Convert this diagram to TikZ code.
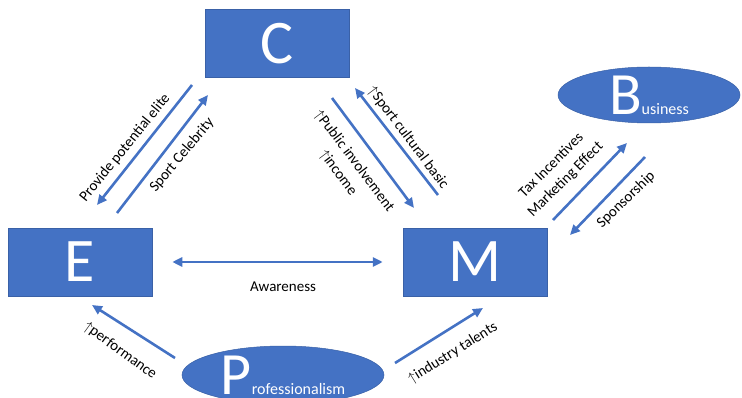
\documentclass[tikz,border=0pt]{standalone}
\usepackage{fontspec}
\setmainfont{Carlito}
\usetikzlibrary{arrows.meta,shapes.geometric}
\definecolor{boxblue}{HTML}{4472C4}
\newcommand{\upmark}{\ensuremath{\uparrow}}
\tikzset{
	bigbox/.style={rectangle, fill=boxblue, draw=boxblue!85!black, line width=0.5pt,
		minimum width=144pt, minimum height=68pt, inner sep=0pt,
		text=white, font=\fontsize{62}{62}\selectfont},
	bigoval/.style={ellipse, fill=boxblue, draw=boxblue!85!black, line width=0.5pt,
		minimum width=202pt, minimum height=58pt, inner sep=0pt,
		text=white, font=\fontsize{60}{60}\selectfont},
	link/.style={draw=boxblue, line width=2.6pt, -{Triangle[length=10pt,width=9pt]}},
	lbl/.style={font=\fontsize{15}{20}\selectfont, inner sep=0pt, align=center}
}
\begin{document}
\begin{tikzpicture}[x=1pt,y=-1pt]
	\useasboundingbox (0,0) rectangle (742,398);
	% the four blocks
	\node[bigbox] (C) at (277,43.5) {C};
	\node[bigbox] (E) at (80,262) {E};
	\node[bigbox] (M) at (475,262) {M};
	\node[bigoval, minimum width=182pt, minimum height=56pt] (B) at (649,95)
		{B{\fontsize{16}{16}\selectfont usiness}};
	\node[bigoval] (P) at (283,375) {P{\fontsize{16}{16}\selectfont rofessionalism}};
	
	% E -- M
	\draw[link, {Triangle[length=10pt,width=9pt]}-{Triangle[length=10pt,width=9pt]},
		shorten <=20pt, shorten >=20pt] (E) -- (M);
	\node[lbl] (aw) at (283,287) {Awareness};
	
	% C -- E
	\coordinate (ce1) at (192,85);  \coordinate (ce2) at (97,205);
	\coordinate (ec1) at (117,213); \coordinate (ec2) at (208,95);
	\draw[link] (ce1) -- (ce2);
	\draw[link] (ec1) -- (ec2);
	\node[lbl, rotate=51] (elite) at (125,148) {Provide potential elite};
	\node[lbl, rotate=50] (celeb) at (182,155) {Sport Celebrity};
	
	% C -- M
	\coordinate (cm1) at (332,98);  \coordinate (cm2) at (414,208);
	\coordinate (mc1) at (438,195); \coordinate (mc2) at (355,88);
	\draw[link] (cm1) -- (cm2);
	\draw[link] (mc1) -- (mc2);
	\node[lbl, rotate=-53] (basic) at (408,138) {\upmark Sport cultural basic};
	\node[lbl, rotate=-53] (public) at (346,167) {\upmark Public involvement\\\upmark income};
	
	% M -- B
	\coordinate (mb1) at (553,220); \coordinate (mb2) at (627,143);
	\coordinate (bm1) at (645,157); \coordinate (bm2) at (570,235);
	\draw[link] (mb1) -- (mb2);
	\draw[link] (bm1) -- (bm2);
	\node[lbl, rotate=45] (tax) at (558.5,172.5) {Tax Incentives\\Marketing Effect};
	\node[lbl, rotate=44] (spons) at (626,200) {Sponsorship};
	
	% P -- E, P -- M
	\coordinate (pe1) at (175,358); \coordinate (pe2) at (92,305);
	\coordinate (pm1) at (395,363); \coordinate (pm2) at (483,308);
	\draw[link] (pe1) -- (pe2);
	\draw[link] (pm1) -- (pm2);
	\node[lbl, rotate=-36] (perf) at (120,351) {\upmark performance};
	\node[lbl, rotate=32] (talent) at (453,353) {\upmark industry talents};
\end{tikzpicture}
\end{document}
